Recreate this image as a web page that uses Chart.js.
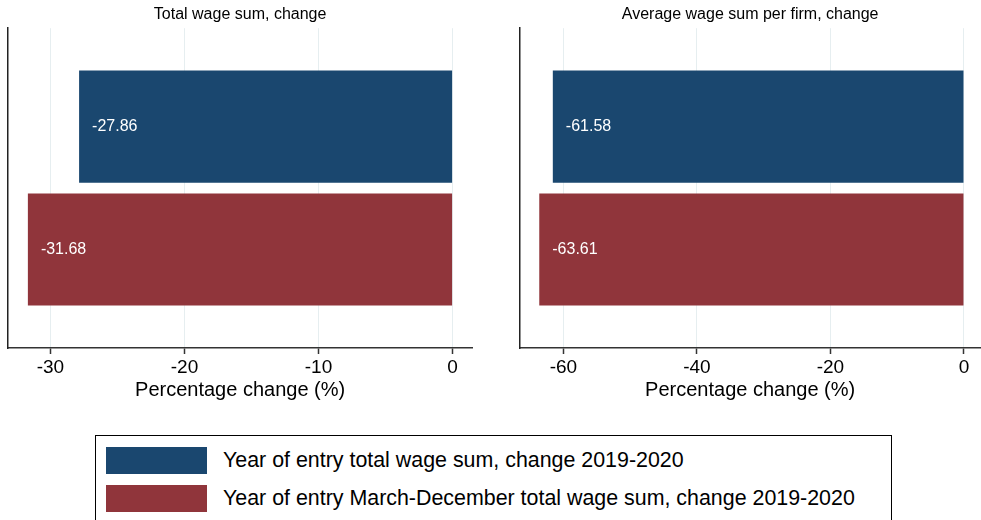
<!DOCTYPE html>
<html>
<head>
<meta charset="utf-8">
<title>Wage sum change</title>
<script src="https://cdn.jsdelivr.net/npm/chart.js@4/dist/chart.umd.min.js"></script>
<style>
    body { margin: 0; background: #fff; width: 981px; height: 520px; overflow: hidden; position: relative; font-family: "Liberation Sans", Arial, sans-serif; }
    canvas { position: absolute; top: 0; }
    #leftChart { left: 0; }
    #rightChart { left: 500px; }
    .legend-box { position: absolute; left: 95px; top: 435px; width: 797px; height: 100px; border: 1px solid #000; box-sizing: border-box; }
    .legend-row { position: absolute; left: 10px; height: 27px; display: flex; align-items: center; }
    .legend-swatch { width: 101px; height: 27px; margin-right: 16px; }
    .legend-text { font-size: 21.4px; color: #000; white-space: nowrap; }
</style>
</head>
<body>
<canvas id="leftChart" width="490" height="404"></canvas>
<canvas id="rightChart" width="481" height="404"></canvas>
<div class="legend-box" id="legend"></div>

<script>
// Data
const seriesLabels = [
    'Year of entry total wage sum, change 2019-2020',
    'Year of entry March-December total wage sum, change 2019-2020'
];
const panelTitles = ['Total wage sum, change', 'Average wage sum per firm, change'];
const fullYearChange = [-27.86, -61.58];   // per panel
const marDecChange = [-31.68, -63.61];     // per panel
const leftTicks = [-30, -20, -10, 0];
const rightTicks = [-60, -40, -20, 0];

const seriesColors = ['#1a476f', '#90353b'];

Chart.defaults.font.family = '"Liberation Sans", Arial, sans-serif';
Chart.defaults.color = '#000';

// White value labels inside the bars, near the bar end
const barValueLabels = {
    id: 'barValueLabels',
    afterDatasetsDraw(chart) {
        const ctx = chart.ctx;
        ctx.save();
        ctx.font = '16px "Liberation Sans", Arial, sans-serif';
        ctx.fillStyle = '#fff';
        ctx.textAlign = 'left';
        ctx.textBaseline = 'middle';
        chart.data.datasets.forEach((ds, i) => {
            chart.getDatasetMeta(i).data.forEach((bar, j) => {
                const left = Math.min(bar.x, bar.base);
                ctx.fillText(ds.data[j].toFixed(2), left + 13, bar.y);
            });
        });
        ctx.restore();
    }
};

function makePanel(canvasId, idx, ticks, min, max, padLeft, padRight) {
    const ctx = document.getElementById(canvasId).getContext('2d');
    const values = [fullYearChange[idx], marDecChange[idx]];
    return new Chart(ctx, {
        type: 'bar',
        data: {
            labels: [panelTitles[idx]],
            datasets: values.map((v, i) => ({
                label: seriesLabels[i],
                data: [v],
                backgroundColor: seriesColors[i],
                borderWidth: 0,
                categoryPercentage: 0.768,
                barPercentage: 0.914
            }))
        },
        options: {
            indexAxis: 'y',
            responsive: false,
            animation: false,
            devicePixelRatio: 1,
            layout: { padding: { left: padLeft, right: padRight, top: 0, bottom: 0 } },
            plugins: {
                legend: { display: false },
                tooltip: { enabled: false },
                title: {
                    display: true,
                    text: panelTitles[idx],
                    color: '#000',
                    font: { size: 16, weight: 'normal' },
                    padding: { top: 5, bottom: 4 }
                }
            },
            scales: {
                x: {
                    type: 'linear',
                    min: min,
                    max: max,
                    afterBuildTicks: (scale) => {
                        scale.ticks = ticks.map(v => ({ value: v }));
                    },
                    afterFit: (scale) => {
                        scale.height = 56;
                    },
                    ticks: {
                        color: '#000',
                        padding: 2,
                        font: { size: 19, lineHeight: 1.2 },
                        maxRotation: 0
                    },
                    grid: {
                        color: '#e6eef0',
                        lineWidth: 1,
                        tickLength: 6,
                        tickColor: '#333',
                        tickWidth: 1.5
                    },
                    border: { display: true, color: '#333', width: 1.5 },
                    title: {
                        display: true,
                        text: 'Percentage change (%)',
                        color: '#000',
                        font: { size: 20, lineHeight: 1 },
                        padding: { top: 0, bottom: 4 }
                    }
                },
                y: {
                    ticks: { display: false },
                    grid: { display: false, drawTicks: false },
                    border: { display: true, color: '#222', width: 1.5 }
                }
            }
        },
        plugins: [barValueLabels]
    });
}

makePanel('leftChart', 0, leftTicks, -33.2, 1.5, 7.5, 17.3);
makePanel('rightChart', 1, rightTicks, -66.6, 2.55, 19.3, 0);

// Legend below both panels
const legendBox = document.getElementById('legend');
seriesLabels.forEach((label, i) => {
    const row = document.createElement('div');
    row.className = 'legend-row';
    row.style.top = (11 + i * 37.5) + 'px';
    const swatch = document.createElement('div');
    swatch.className = 'legend-swatch';
    swatch.style.background = seriesColors[i];
    const text = document.createElement('span');
    text.className = 'legend-text';
    text.textContent = label;
    row.appendChild(swatch);
    row.appendChild(text);
    legendBox.appendChild(row);
});
</script>
</body>
</html>
